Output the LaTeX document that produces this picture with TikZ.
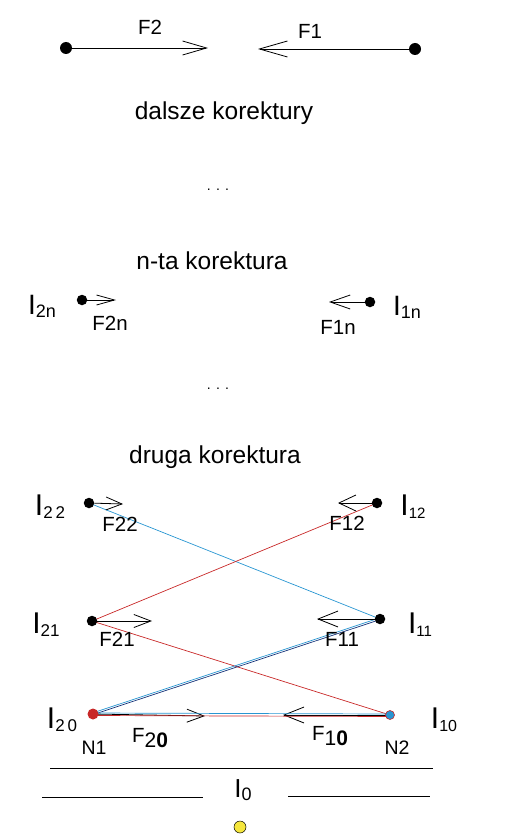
\documentclass[tikz,border=0pt]{standalone}
\usepackage{fontspec}
\setmainfont{Liberation Sans}
\usetikzlibrary{arrows.meta}
\definecolor{cblue}{RGB}{40,150,210}
\definecolor{cred}{RGB}{200,40,40}
\definecolor{cnavy}{RGB}{20,50,120}
\definecolor{cyel}{RGB}{245,230,60}
\newcommand{\fsz}[1]{\fontsize{#1}{#1}\selectfont}
\newcommand{\Ilbl}[3]{{\fsz{#1}I}{\fsz{#2}\raisebox{-3pt}{#3}}}
\begin{document}
\begin{tikzpicture}[x=1pt,y=-1pt,
  dot/.style={circle,fill=black,inner sep=0pt,minimum size=#1},
  dot/.default=10.5pt,
  txt/.style={inner sep=0pt,font=\fsz{20.5}},
  head/.style={inner sep=0pt,font=\fsz{24.5}},
  ilab/.style={inner sep=0pt},
  force/.style 2 args={line width=0.8pt,-{Straight Barb[length=#1pt,width=#2pt]}},
  thin line/.style={line width=0.7pt}]
\useasboundingbox (0,0) rectangle (525,840);
% top row
\node[dot=12pt] (A) at (66,48) {};
\node[dot=12pt] (B) at (415,49) {};
\coordinate (At) at (208,48);
\coordinate (Bt) at (258,49);
\draw[force={24}{14}] (A) -- (At);
\draw[force={28}{16}] (B) -- (Bt);
\node[txt] (F2) at (150,27) {F2};
\node[txt] (F1) at (310,31) {F1};
% headings
\node[head] (h1) at (224,113) {dalsze korektury};
\node[inner sep=0pt,font=\fsz{14}] (d1) at (218,190) {. . .};
\node[head] (h2) at (212,261) {n-ta korektura};
\node[inner sep=0pt,font=\fsz{14}] (d2) at (218,389) {. . .};
\node[head] (h3) at (215,457) {druga korektura};
% row n
\node[dot] (Pn) at (82,300) {};
\node[dot] (Qn) at (370,302) {};
\coordinate (Pnt) at (116,300);
\coordinate (Qnt) at (329,302);
\draw[force={18}{10}] (Pn) -- (Pnt);
\draw[force={20}{14}] (Qn) -- (Qnt);
\node[txt] (F2n) at (110,323) {F2n};
\node[txt] (F1n) at (338,327) {F1n};
\node[ilab] (I2n) at (42,306) {\Ilbl{28}{18}{2n}};
\node[ilab] (I1n) at (407,307) {\Ilbl{28}{18}{1n}};
% row 2
\coordinate (P2) at (89,503);
\coordinate (Q2) at (377,503);
\coordinate (P1) at (92,621);
\coordinate (Q1) at (380,619);
\coordinate (N1c) at (93,714);
\coordinate (N2c) at (390,715);
% cross lines
\draw[cblue,thin line] (P2) -- (Q1);
\draw[cred,thin line] (P1) -- (Q2);
\draw[cred,thin line] (P1) -- (N2c);
\draw[cblue,thin line] ([yshift=1.2pt]N1c) -- ([yshift=1.2pt]Q1);
\draw[cnavy,thin line] ([yshift=-0.6pt]N1c) -- ([yshift=-0.6pt]Q1);
\node[dot] (D22) at (P2) {};
\node[dot] (D12) at (Q2) {};
\node[dot] (D21) at (P1) {};
\node[dot] (D11) at (Q1) {};
\coordinate (P2t) at (123,504);
\coordinate (Q2t) at (338,503);
\coordinate (P1t) at (152,621);
\coordinate (Q1t) at (317,619);
\draw[force={16}{13}] (D22) -- (P2t);
\draw[force={17}{16}] (D12) -- (Q2t);
\draw[force={17}{13}] (D21) -- (P1t);
\draw[force={20}{16}] (D11) -- (Q1t);
\node[txt] (F22) at (120,524) {F22};
\node[txt] (F12) at (347,523) {F12};
\node[txt] (F21) at (117,639) {F21};
\node[txt] (F11) at (342,639) {F11};
\node[ilab] (I22) at (50,507) {\Ilbl{30}{17}{2\,2}};
\node[ilab] (I12) at (413,507) {\Ilbl{30}{15}{12}};
\node[ilab] (I21) at (46,625) {\Ilbl{30}{17}{21}};
\node[ilab] (I11) at (420,625) {\Ilbl{30}{15}{11}};
% row 0
\coordinate (N1t) at (205,716);
\coordinate (N2t) at (283,715);
\draw[force={17}{13}] (N1c) -- (N1t);
\draw[force={20}{16}] (N2c) -- (N2t);
\draw[cblue,thin line] ([yshift=1pt]N1c) -- ([yshift=1pt]N2c);
\draw[cred,thin line] ([yshift=-1.5pt]N1c) -- ([yshift=-1.5pt]N2c);
\node[circle,fill=cred,inner sep=0pt,minimum size=11pt] (N1) at (N1c) {};
\node[circle,fill=cblue,draw=cred,line width=0.6pt,inner sep=0pt,minimum size=9pt] (N2) at (N2c) {};
\node[txt] (F20) at (150,738) {F{\fsz{21}\raisebox{-5pt}{2\textbf{0}}}};
\node[txt] (F10) at (330,736) {F{\fsz{21}\raisebox{-5pt}{1\textbf{0}}}};
\node[txt,font=\fsz{19.5}] (N1l) at (94,748) {N1};
\node[txt,font=\fsz{19.5}] (N2l) at (397,748) {N2};
\node[ilab] (I20) at (62,720) {\Ilbl{30}{17}{2\,0}};
\node[ilab] (I10) at (444,720) {\Ilbl{30}{16}{10}};
% bottom
\coordinate (L1a) at (50,768);
\coordinate (L1b) at (433,768);
\coordinate (L2a) at (42,797);
\coordinate (L2b) at (203,797);
\coordinate (L3a) at (288,796);
\coordinate (L3b) at (430,796);
\draw[thin line] (L1a) -- (L1b);
\draw[thin line] (L2a) -- (L2b);
\draw[thin line] (L3a) -- (L3b);
\node[ilab] (I0) at (243,790) {\Ilbl{26}{18}{0}};
\node[circle,fill=cyel,draw=black,line width=0.5pt,inner sep=0pt,minimum size=12pt] (sun) at (240,827) {};
\end{tikzpicture}
\end{document}
